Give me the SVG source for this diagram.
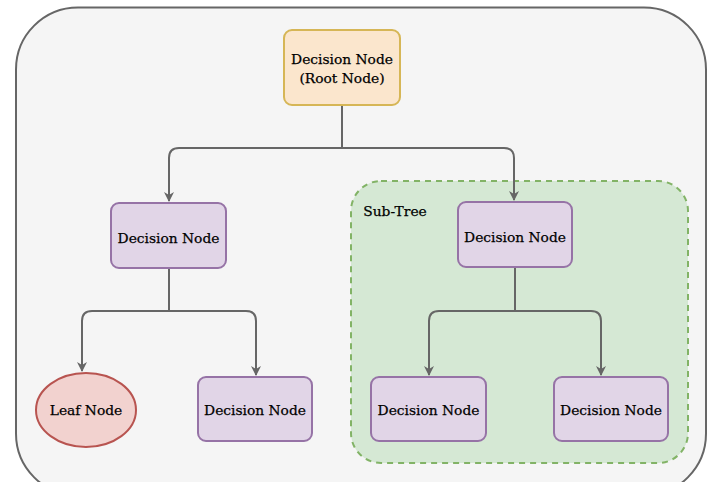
<svg xmlns="http://www.w3.org/2000/svg" width="709" height="482" viewBox="0 0 709 482">
  <style>
    .lbl { font-family: "DejaVu Serif", "Liberation Serif", serif; font-size: 13.8px; fill: #000; stroke: #000; stroke-width: 0.25; text-anchor: middle; dominant-baseline: central; }
    .dec { fill: #e1d5e7; stroke: #9673a6; stroke-width: 2; }
    .wire { fill: none; stroke: #666; stroke-width: 2; }
  </style>
  <defs>
    <marker id="arrow" viewBox="0 0 10 10" refX="9" refY="5" markerWidth="12" markerHeight="10" markerUnits="userSpaceOnUse" orient="auto">
      <path d="M0,0 L10,5 L0,10 L3,5 Z" fill="#666"/>
    </marker>
  </defs>
  <rect width="709" height="482" fill="#ffffff"/>
  <!-- outer frame -->
  <rect x="16" y="7.5" width="690" height="488" rx="62" fill="#f5f5f5" stroke="#666" stroke-width="2"/>

  <!-- sub-tree region -->
  <g id="subtree">
    <rect x="351" y="181" width="337" height="282" rx="30" fill="#d5e8d4" stroke="#82b366" stroke-width="2" stroke-dasharray="6 5"/>
    <text class="lbl" x="395" y="211">Sub-Tree</text>
  </g>

  <g id="connectors">
    <path class="wire" d="M342,105 V148 H179 Q169,148 169,158 V201" marker-end="url(#arrow)"/>
    <path class="wire" d="M342,148 H504 Q514,148 514,158 V200" marker-end="url(#arrow)"/>
    <path class="wire" d="M169,268 V311 H92 Q82,311 82,321 V371" marker-end="url(#arrow)"/>
    <path class="wire" d="M169,311 H246 Q256,311 256,321 V375" marker-end="url(#arrow)"/>
    <path class="wire" d="M515,267 V311 H439 Q429,311 429,321 V375" marker-end="url(#arrow)"/>
    <path class="wire" d="M515,311 H591 Q601,311 601,321 V375" marker-end="url(#arrow)"/>
  </g>

  <g id="root">
    <rect x="284" y="30" width="116" height="75" rx="8" fill="#fbe6cd" stroke="#d6b656" stroke-width="2"/>
    <text class="lbl" x="342" y="59">Decision Node</text>
    <text class="lbl" x="342" y="78">(Root Node)</text>
  </g>
  <g id="decision-left">
    <rect class="dec" x="111" y="203" width="115" height="65" rx="8"/>
    <text class="lbl" x="168.5" y="238">Decision Node</text>
  </g>
  <g id="decision-sub">
    <rect class="dec" x="458" y="202" width="114" height="65" rx="8"/>
    <text class="lbl" x="515" y="237">Decision Node</text>
  </g>
  <g id="leaf">
    <ellipse cx="86" cy="410" rx="50" ry="37" fill="#f2d2cf" stroke="#b85450" stroke-width="2"/>
    <text class="lbl" x="86" y="410">Leaf Node</text>
  </g>
  <g id="decision-bottom">
    <rect class="dec" x="198" y="377" width="114" height="64" rx="8"/>
    <text class="lbl" x="255" y="410">Decision Node</text>
  </g>
  <g id="decision-sub-left">
    <rect class="dec" x="371" y="377" width="115" height="64" rx="8"/>
    <text class="lbl" x="428.5" y="410">Decision Node</text>
  </g>
  <g id="decision-sub-right">
    <rect class="dec" x="554" y="377" width="114" height="64" rx="8"/>
    <text class="lbl" x="611" y="410">Decision Node</text>
  </g>
</svg>
